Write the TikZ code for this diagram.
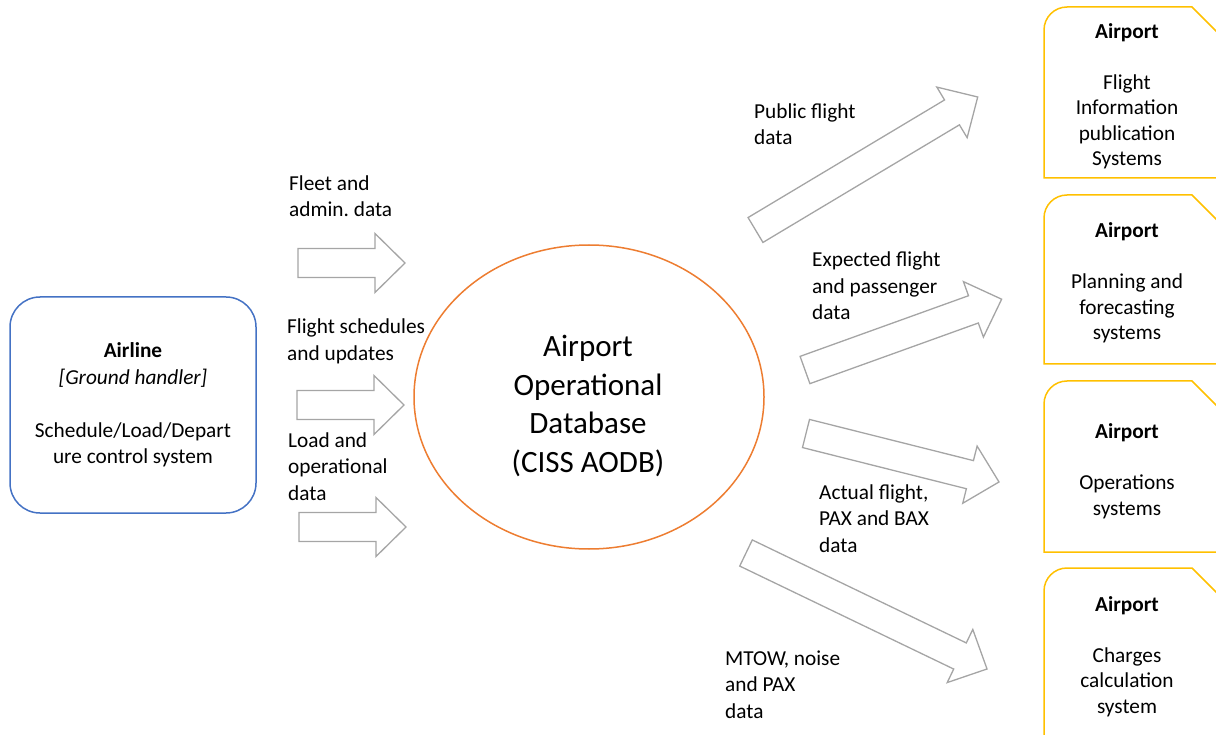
\documentclass[tikz,border=0pt]{standalone}
\usepackage{fontspec}
\setmainfont{Carlito}
\usetikzlibrary{shapes.geometric}
\frenchspacing
\definecolor{arrgray}{HTML}{A5A5A5}
\definecolor{aorange}{HTML}{ED7D31}
\definecolor{ablue}{HTML}{4472C4}
\definecolor{agold}{HTML}{FFC000}
\tikzset{
  barrow/.style={draw=arrgray, line width=1.3pt, fill=white},
  apbox/.style={draw=agold, line width=1.5pt},
  lbl/.style={anchor=base west, align=left, inner sep=0pt, font=\fontsize{21.3pt}{26.5pt}\selectfont},
  aptext/.style={anchor=base, align=center, inner sep=0pt, font=\fontsize{21.3pt}{25.5pt}\selectfont},
}
\newcommand\blockarrow[3]{%
  \begin{scope}[shift={(#1)}, rotate=#2]
    \draw[barrow] (0,-14.5) -- ({#3-30},-14.5) -- ({#3-30},-29.5) -- (#3,0)
      -- ({#3-30},29.5) -- ({#3-30},14.5) -- (0,14.5) -- cycle;
  \end{scope}}
\newcommand\airportbox[2]{%
  \draw[apbox] (1230,#2) -- (1044,#2) -- (1044,#1+23)
    arc[start angle=180, end angle=90, radius=23pt] -- (1192,#1) -- (1230,#1+38);}
\begin{document}
\begin{tikzpicture}[x=1pt, y=-1pt]
\useasboundingbox (0,0) rectangle (1216,735);
\clip (0,0) rectangle (1216,735);

% Airline box
\node[draw=ablue, line width=1.5pt, rounded corners=30pt, minimum width=246pt, minimum height=216pt,
  align=center, inner sep=0pt, font=\fontsize{21.3pt}{26.5pt}\selectfont] (airline) at (133,405)
  {\textbf{Airline}\\ \textit{[Ground handler]}\\[26.5pt]Schedule/Load/Depart\\ure control system};

% Central ellipse
\node[ellipse, draw=aorange, line width=1.5pt, minimum width=350pt, minimum height=304pt, inner sep=0pt] (aodb) at (589,397) {};
\node[align=center, inner sep=0pt, font=\fontsize{31pt}{38.5pt}\selectfont, anchor=base] (aodbtext) at (588,472)
  {Airport\\Operational\\Database\\(CISS AODB)};

% Left block arrows
\blockarrow{298,263}{0}{107}
\blockarrow{297,405}{0}{107}
\blockarrow{299,527}{0}{107}

% Right block arrows
\blockarrow{755.5,230}{30.9}{259}
\blockarrow{805,370}{19.8}{209}
\blockarrow{806,433.5}{-14.1}{199}
\blockarrow{746,553}{-25.7}{267.5}

% Labels (anchored at the baseline of the last line)
\node[lbl] (l1) at (289,217) {Fleet and\\admin. data};
\node[lbl] (l2) at (287,360) {Flight schedules\\and updates};
\node[lbl] (l3) at (288,500) {Load and\\operational\\data};
\node[lbl] (la) at (754,145) {Public flight\\data};
\node[lbl] (lb) at (812,320) {Expected flight\\and passenger\\data};
\node[lbl] (lc) at (819,552) {Actual flight,\\PAX and BAX\\data};
\node[lbl] (ld) at (725,718) {MTOW, noise\\and PAX\\data};

% Airport boxes
\airportbox{7}{178}
\airportbox{195}{364}
\airportbox{381}{552}
\airportbox{568}{742}

\node[aptext] (ap1) at (1127,166) {\textbf{Airport}\\[25.5pt]Flight\\Information\\publication\\Systems};
\node[aptext] (ap2) at (1127,340) {\textbf{Airport}\\[25.5pt]Planning and\\forecasting\\systems};
\node[aptext] (ap3) at (1127,515) {\textbf{Airport}\\[25.5pt]Operations\\systems};
\node[aptext] (ap4) at (1127,713) {\textbf{Airport}\\[25.5pt]Charges\\calculation\\system};
\end{tikzpicture}
\end{document}
